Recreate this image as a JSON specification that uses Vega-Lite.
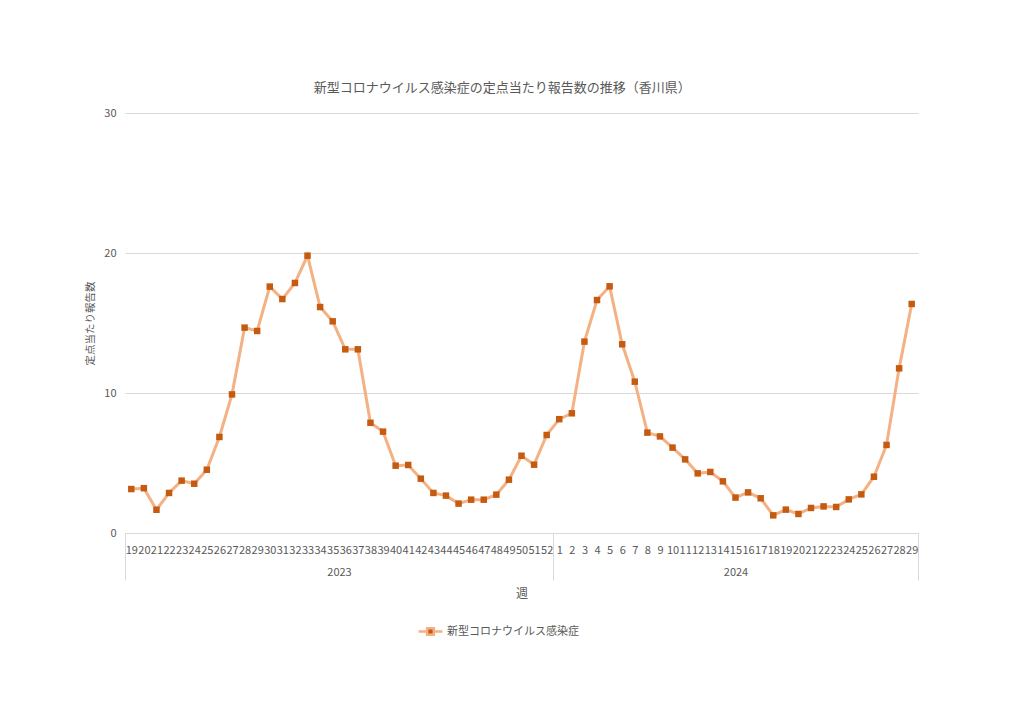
{
  "$schema": "https://vega.github.io/schema/vega-lite/v6.json",
  "width": 793,
  "height": 420,
  "padding": {"left": 85, "top": 82, "right": 106, "bottom": 20},
  "autosize": {"type": "pad"},
  "background": "white",
  "config": {"font": "Noto Sans CJK JP", "view": {"stroke": null}},
  "title": {"text": "新型コロナウイルス感染症の定点当たり報告数の推移（香川県）", "fontSize": 13, "fontWeight": "normal", "color": "#595959", "frame": "bounds", "offset": 12},
  "datasets": {
    "weekly": [
      {"year": 2023, "week": 19, "w": "2023-19", "value": 3.14},
      {"year": 2023, "week": 20, "w": "2023-20", "value": 3.2},
      {"year": 2023, "week": 21, "w": "2023-21", "value": 1.66},
      {"year": 2023, "week": 22, "w": "2023-22", "value": 2.86},
      {"year": 2023, "week": 23, "w": "2023-23", "value": 3.74},
      {"year": 2023, "week": 24, "w": "2023-24", "value": 3.52},
      {"year": 2023, "week": 25, "w": "2023-25", "value": 4.52},
      {"year": 2023, "week": 26, "w": "2023-26", "value": 6.86},
      {"year": 2023, "week": 27, "w": "2023-27", "value": 9.9},
      {"year": 2023, "week": 28, "w": "2023-28", "value": 14.67},
      {"year": 2023, "week": 29, "w": "2023-29", "value": 14.43},
      {"year": 2023, "week": 30, "w": "2023-30", "value": 17.6},
      {"year": 2023, "week": 31, "w": "2023-31", "value": 16.71},
      {"year": 2023, "week": 32, "w": "2023-32", "value": 17.86},
      {"year": 2023, "week": 33, "w": "2023-33", "value": 19.81},
      {"year": 2023, "week": 34, "w": "2023-34", "value": 16.14},
      {"year": 2023, "week": 35, "w": "2023-35", "value": 15.12},
      {"year": 2023, "week": 36, "w": "2023-36", "value": 13.12},
      {"year": 2023, "week": 37, "w": "2023-37", "value": 13.12},
      {"year": 2023, "week": 38, "w": "2023-38", "value": 7.87},
      {"year": 2023, "week": 39, "w": "2023-39", "value": 7.24},
      {"year": 2023, "week": 40, "w": "2023-40", "value": 4.81},
      {"year": 2023, "week": 41, "w": "2023-41", "value": 4.86},
      {"year": 2023, "week": 42, "w": "2023-42", "value": 3.88},
      {"year": 2023, "week": 43, "w": "2023-43", "value": 2.86},
      {"year": 2023, "week": 44, "w": "2023-44", "value": 2.67},
      {"year": 2023, "week": 45, "w": "2023-45", "value": 2.1},
      {"year": 2023, "week": 46, "w": "2023-46", "value": 2.38},
      {"year": 2023, "week": 47, "w": "2023-47", "value": 2.38},
      {"year": 2023, "week": 48, "w": "2023-48", "value": 2.74},
      {"year": 2023, "week": 49, "w": "2023-49", "value": 3.81},
      {"year": 2023, "week": 50, "w": "2023-50", "value": 5.52},
      {"year": 2023, "week": 51, "w": "2023-51", "value": 4.88},
      {"year": 2023, "week": 52, "w": "2023-52", "value": 7.0},
      {"year": 2024, "week": 1, "w": "2024-1", "value": 8.13},
      {"year": 2024, "week": 2, "w": "2024-2", "value": 8.55},
      {"year": 2024, "week": 3, "w": "2024-3", "value": 13.67},
      {"year": 2024, "week": 4, "w": "2024-4", "value": 16.64},
      {"year": 2024, "week": 5, "w": "2024-5", "value": 17.62},
      {"year": 2024, "week": 6, "w": "2024-6", "value": 13.48},
      {"year": 2024, "week": 7, "w": "2024-7", "value": 10.81},
      {"year": 2024, "week": 8, "w": "2024-8", "value": 7.17},
      {"year": 2024, "week": 9, "w": "2024-9", "value": 6.9},
      {"year": 2024, "week": 10, "w": "2024-10", "value": 6.1},
      {"year": 2024, "week": 11, "w": "2024-11", "value": 5.26},
      {"year": 2024, "week": 12, "w": "2024-12", "value": 4.26},
      {"year": 2024, "week": 13, "w": "2024-13", "value": 4.36},
      {"year": 2024, "week": 14, "w": "2024-14", "value": 3.69},
      {"year": 2024, "week": 15, "w": "2024-15", "value": 2.53},
      {"year": 2024, "week": 16, "w": "2024-16", "value": 2.9},
      {"year": 2024, "week": 17, "w": "2024-17", "value": 2.48},
      {"year": 2024, "week": 18, "w": "2024-18", "value": 1.26},
      {"year": 2024, "week": 19, "w": "2024-19", "value": 1.67},
      {"year": 2024, "week": 20, "w": "2024-20", "value": 1.36},
      {"year": 2024, "week": 21, "w": "2024-21", "value": 1.79},
      {"year": 2024, "week": 22, "w": "2024-22", "value": 1.9},
      {"year": 2024, "week": 23, "w": "2024-23", "value": 1.86},
      {"year": 2024, "week": 24, "w": "2024-24", "value": 2.4},
      {"year": 2024, "week": 25, "w": "2024-25", "value": 2.76},
      {"year": 2024, "week": 26, "w": "2024-26", "value": 4.02},
      {"year": 2024, "week": 27, "w": "2024-27", "value": 6.29},
      {"year": 2024, "week": 28, "w": "2024-28", "value": 11.76},
      {"year": 2024, "week": 29, "w": "2024-29", "value": 16.36}
    ],
    "years": [
      {"year": "2023", "mid": 17.5},
      {"year": "2024", "mid": 49}
    ]
  },
  "layer": [
    {
      "data": {"name": "weekly"},
      "encoding": {
        "x": {
          "field": "w", "type": "ordinal", "sort": null,
          "scale": {"type": "point", "padding": 0.5},
          "axis": {
            "title": null, "labelExpr": "split(datum.value, '-')[1]", "labelAngle": 0,
            "labelOverlap": false, "labelBound": false, "labelFlush": false,
            "ticks": false, "domain": true, "domainColor": "#d9d9d9", "grid": false,
            "labelColor": "#595959", "labelFontSize": 11, "labelPadding": 11
          }
        },
        "y": {
          "field": "value", "type": "quantitative",
          "scale": {"domain": [0, 30], "nice": false},
          "axis": {
            "title": "定点当たり報告数", "titleFontSize": 10.5, "titleFontWeight": "normal", "titleColor": "#595959",
            "labelColor": "#595959", "labelFontSize": 11, "domain": false, "ticks": false,
            "gridColor": "#d9d9d9", "values": [0, 10, 20, 30], "labelPadding": 9, "titlePadding": 8
          }
        }
      },
      "layer": [
        {
          "mark": {"type": "line", "strokeWidth": 3, "color": "#f4b183"},
          "encoding": {
            "color": {
              "datum": "新型コロナウイルス感染症",
              "scale": {"range": ["#f4b183"]},
              "legend": {
                "title": null, "orient": "none", "legendX": 292, "legendY": 505, "direction": "horizontal",
                "labelFontSize": 11, "labelColor": "#595959", "labelOffset": 3,
                "symbolSize": 576,
                "symbolType": "M-1,0L-0.3,0M0.3,0L1,0M-0.28,-0.28L0.28,-0.28L0.28,0.28L-0.28,0.28Z",
                "encode": {"symbols": {"update": {"fill": {"value": "#c55a11"}, "stroke": {"value": "#f4b183"}, "strokeWidth": {"value": 2.5}}}}
              }
            }
          }
        },
        {
          "mark": {"type": "point", "shape": "square", "filled": true, "color": "#c55a11", "size": 42, "opacity": 1}
        }
      ]
    },
    {
      "data": {"name": "years"},
      "mark": {"type": "text", "opacity": 0},
      "encoding": {
        "text": {"field": "year"},
        "x": {
          "field": "mid", "type": "quantitative",
          "scale": {"domain": [0.5, 63.5], "nice": false, "zero": false},
          "axis": {
            "orient": "bottom", "values": [0.5, 17.5, 34.5, 49, 63.5],
            "labelExpr": "datum.value == 17.5 ? '2023' : datum.value == 49 ? '2024' : ''",
            "tickSize": 47,
            "tickColor": {"condition": {"test": "datum.value == 17.5 || datum.value == 49", "value": "transparent"}, "value": "#d9d9d9"},
            "domain": false, "grid": false, "labelPadding": -14,
            "labelFontSize": 11, "labelColor": "#595959",
            "labelFlush": false, "labelBound": false, "labelOverlap": false,
            "title": "週", "titleFontSize": 12, "titleFontWeight": "normal", "titleColor": "#595959", "titlePadding": 8
          }
        }
      }
    }
  ],
  "resolve": {"scale": {"x": "independent"}}
}
